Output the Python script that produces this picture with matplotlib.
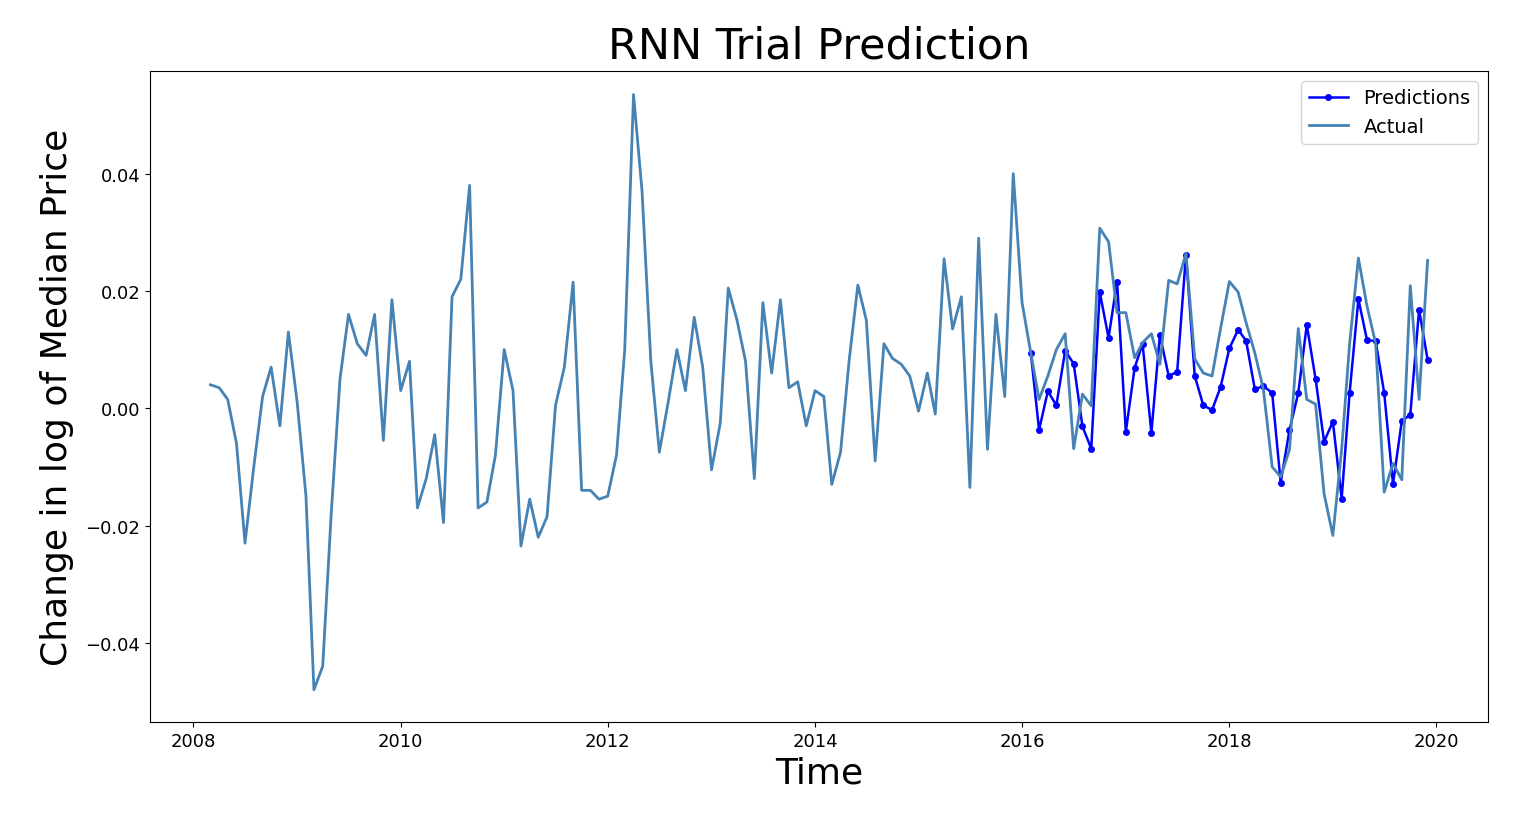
import numpy as np
import pandas as pd
import matplotlib
matplotlib.use('Agg')
import matplotlib.pyplot as plt

# Actual monthly change in log median price (2008-03 .. 2019-12), units of 1e-3
actual = [4, 3.5, 1.5, -6, -23, -10, 2, 7, -3, 13,
          1, -15, -48, -44, -18, 5, 16, 11, 9, 16, -5.5, 18.5,
          3, 8, -17, -12, -4.5, -19.5, 19, 22, 38, -17, -16, -8,
          10, 3, -23.5, -15.5, -22, -18.5, 0.5, 7, 21.5, -14, -14, -15.5,
          -15, -8, 10, 53.5, 37, 8, -7.5, 1, 10, 3, 15.5, 7,
          -10.5, -2.5, 20.5, 15, 8, -12, 18, 6, 18.5, 3.5, 4.5, -3,
          3, 2, -13, -7.5, 8, 21, 15, -9, 11, 8.5, 7.5, 5.5,
          -0.5, 6, -1, 25.5, 13.5, 19, -13.5, 29, -7, 16, 2, 40,
          18, 9.4, 1.5, 5.5, 10, 12.7, -6.9, 2.4, 0.4, 30.7, 28.4, 16.3,
          16.3, 8.6, 11.2, 12.7, 7.5, 21.8, 21.2, 26.4, 8.4, 6, 5.5, 13.6,
          21.6, 19.8, 14.6, 9.4, 3.2, -10, -11.7, -7.1, 13.6, 1.5, 0.7, -14.6,
          -21.7, -7, 11, 25.6, 17.5, 11, -14.3, -9.4, -12.2, 20.9, 1.5, 25.2]

# RNN predictions (2016-02 .. 2019-12), units of 1e-3
predictions = [9.4, -3.7, 2.9, 0.5, 9.8, 7.6, -3.1, -6.9, 19.8, 12.0, 21.6,
               -4.0, 6.9, 11.0, -4.2, 12.5, 5.5, 6.2, 26.2, 5.5, 0.5, -0.3,
               3.6, 10.2, 13.4, 11.5, 3.2, 3.8, 2.6, -12.7, -3.7, 2.6, 14.2, 5.0,
               -5.7, -2.3, -15.4, 2.6, 18.6, 11.7, 11.4, 2.6, -12.9, -2.2, -1.1,
               16.8, 8.3]

act_dates = pd.date_range('2008-03-01', periods=len(actual), freq='MS')
pred_dates = pd.date_range('2016-02-01', periods=len(predictions), freq='MS')

fig = plt.figure(figsize=(15.38, 8.2), dpi=100)
ax = fig.add_axes([150/1538, 1-723/820, 1338/1538, 651/820])

ax.plot(pred_dates, np.array(predictions)/1000, color='blue', marker='.',
        markersize=8, linewidth=1.8, label='Predictions')
ax.plot(act_dates, np.array(actual)/1000, color='#4682b4', linewidth=2,
        label='Actual')

ax.set_ylim(-0.0535, 0.0575)
ax.set_xlim(pd.Timestamp('2007-08-01'), pd.Timestamp('2020-07-01'))
ax.set_yticks([-0.04, -0.02, 0.0, 0.02, 0.04])
ax.tick_params(labelsize=13)
ax.set_title('RNN Trial Prediction', fontsize=31, pad=10)
ax.set_xlabel('Time', fontsize=26)
ax.set_ylabel('Change in log of Median Price', fontsize=26, labelpad=8)
ax.legend(loc='upper right', fontsize=14)

fig.savefig('out.png')
